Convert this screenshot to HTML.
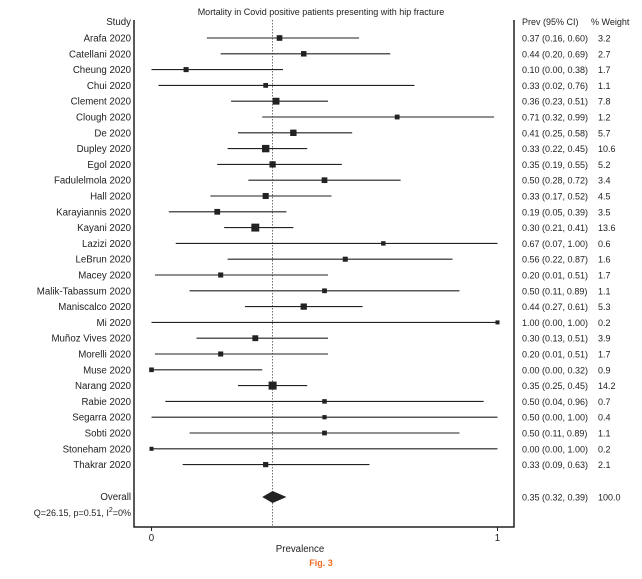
<!DOCTYPE html>
<html><head><meta charset="utf-8"><style>
body{margin:0;background:#fff;width:642px;height:574px;overflow:hidden}
svg{font-family:"Liberation Sans",sans-serif}
</style></head><body>
<svg id="c" width="642" height="574">
<text x="321" y="15" font-size="9" text-anchor="middle" fill="#222">Mortality in Covid positive patients presenting with hip fracture</text>
<text x="131" y="25" font-size="9.7" text-anchor="end" fill="#222">Study</text>
<text x="522" y="25" font-size="9" fill="#222">Prev (95% CI)</text>
<text x="591" y="25" font-size="9" fill="#222">% Weight</text>
<polyline points="134,20 134,527 514,527 514,20" fill="none" stroke="#222" stroke-width="1.5"/>
<g id="rows"></g>
<text x="131" y="500" font-size="9.7" text-anchor="end" fill="#222">Overall</text>
<text x="131" y="516" font-size="9" text-anchor="end" fill="#222">Q=26.15, p=0.51, I<tspan font-size="7" dy="-4">2</tspan><tspan dy="4">=0%</tspan></text>
<text x="300" y="552" font-size="9.7" text-anchor="middle" fill="#222">Prevalence</text>
<text x="321" y="566" font-size="9" font-weight="bold" text-anchor="middle" fill="#f26b21">Fig. 3</text>
</svg>
<script>
const studies=["Arafa 2020","Catellani 2020","Cheung 2020","Chui 2020","Clement 2020","Clough 2020","De 2020","Dupley 2020","Egol 2020","Fadulelmola 2020","Hall 2020","Karayiannis 2020","Kayani 2020","Lazizi 2020","LeBrun 2020","Macey 2020","Malik-Tabassum 2020","Maniscalco 2020","Mi 2020","Muñoz Vives 2020","Morelli 2020","Muse 2020","Narang 2020","Rabie 2020","Segarra 2020","Sobti 2020","Stoneham 2020","Thakrar 2020"];
const prev=[0.37,0.44,0.10,0.33,0.36,0.71,0.41,0.33,0.35,0.50,0.33,0.19,0.30,0.67,0.56,0.20,0.50,0.44,1.00,0.30,0.20,0.00,0.35,0.50,0.50,0.50,0.00,0.33];
const lo=[0.16,0.20,0.00,0.02,0.23,0.32,0.25,0.22,0.19,0.28,0.17,0.05,0.21,0.07,0.22,0.01,0.11,0.27,0.00,0.13,0.01,0.00,0.25,0.04,0.00,0.11,0.00,0.09];
const hi=[0.60,0.69,0.38,0.76,0.51,0.99,0.58,0.45,0.55,0.72,0.52,0.39,0.41,1.00,0.87,0.51,0.89,0.61,1.00,0.51,0.51,0.32,0.45,0.96,1.00,0.89,1.00,0.63];
const weight=[3.2,2.7,1.7,1.1,7.8,1.2,5.7,10.6,5.2,3.4,4.5,3.5,13.6,0.6,1.6,1.7,1.1,5.3,0.2,3.9,1.7,0.9,14.2,0.7,0.4,1.1,0.2,2.1];
const overall=[0.35,0.32,0.39,100.0];
const xTicks=[0,1];
const x=v=>151.5+v*346;
const y=i=>38+i*15.8;
const NS="http://www.w3.org/2000/svg";
const svg=document.getElementById('c'),g=document.getElementById('rows');
function mk(t,a,p){const e=document.createElementNS(NS,t);for(const k in a)e.setAttribute(k,a[k]);(p||g).appendChild(e);return e;}
const f=v=>v.toFixed(2);
const ref=mk('line',{x1:x(overall[0]),x2:x(overall[0]),y1:20,y2:527,stroke:'#333','stroke-width':0.7,'stroke-dasharray':'1.5,1.5'});


studies.forEach((s,i)=>{
 const yy=y(i);
 const l=mk('text',{x:131,y:yy+3.5,'font-size':9.7,'text-anchor':'end',fill:'#222'});l.textContent=s;
 
 
 const ci=mk('line',{x1:x(lo[i]),x2:x(hi[i]),y1:yy,y2:yy,stroke:'#222','stroke-width':1.1});
 
 
 const sz=3.5+Math.sqrt(weight[i])*1.2;
 const sq=mk('rect',{x:x(prev[i])-sz/2,y:yy-sz/2,width:sz,height:sz,fill:'#222'});
 
 
 const t=mk('text',{x:522,y:yy+3.5,'font-size':9,fill:'#222'});t.textContent=f(prev[i])+' ('+f(lo[i])+', '+f(hi[i])+')';
 
 
 const w=mk('text',{x:598,y:yy+3.5,'font-size':9,fill:'#222'});w.textContent=weight[i].toFixed(1);
 
 
});
const oy=497;
const d=mk('polygon',{points:`${x(overall[1])},${oy} ${x(overall[0])},${oy-6} ${x(overall[2])},${oy} ${x(overall[0])},${oy+6}`,fill:'#222'});


const ot=mk('text',{x:522,y:oy+3.5,'font-size':9,fill:'#222'});ot.textContent=f(overall[0])+' ('+f(overall[1])+', '+f(overall[2])+')';


const ow=mk('text',{x:598,y:oy+3.5,'font-size':9,fill:'#222'});ow.textContent=overall[3].toFixed(1);


xTicks.forEach(v=>{
 const tk=mk('line',{x1:x(v),x2:x(v),y1:527,y2:531,stroke:'#222','stroke-width':1});
 
 
 const tl=mk('text',{x:x(v),y:541,'font-size':9.7,'text-anchor':'middle',fill:'#222'});tl.textContent=v;
 
 
});
</script>
</body></html>
